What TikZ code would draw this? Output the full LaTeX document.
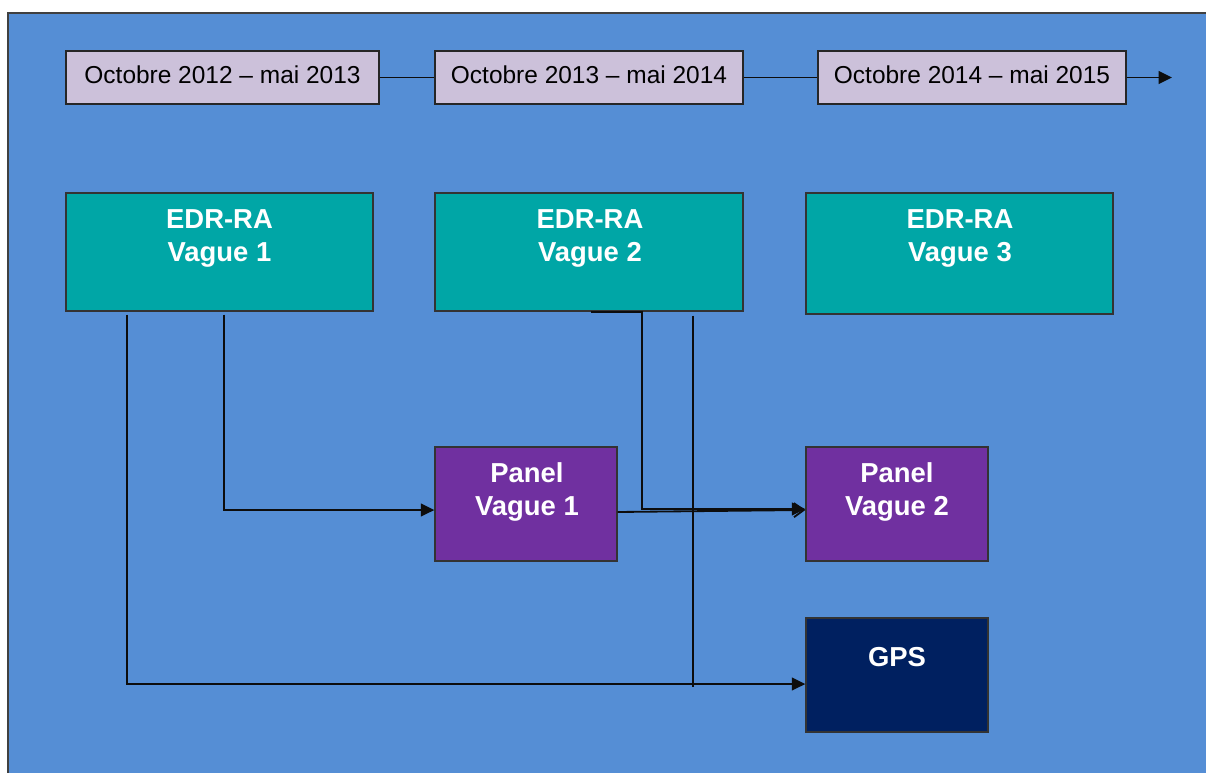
\documentclass[tikz,border=0pt]{standalone}
\usepackage{fontspec}
\setmainfont{Liberation Sans}
\usetikzlibrary{arrows.meta}
\definecolor{bg}{HTML}{558ED5}
\definecolor{period}{HTML}{CCC1DA}
\definecolor{edr}{HTML}{00A6A6}
\definecolor{panel}{HTML}{7030A0}
\definecolor{gps}{HTML}{002060}

\tikzset{
  periodbox/.style={shape=rectangle, fill=period, draw=black!85, line width=0.9pt,
    minimum height=1.325cm, inner sep=0pt, text depth=4.5pt,
    font=\fontsize{17.4}{21}\selectfont},
  edrbox/.style={shape=rectangle, fill=edr, draw=black!80, line width=0.9pt,
    minimum width=7.675cm, minimum height=2.95cm},
  panelbox/.style={shape=rectangle, fill=panel, draw=black!80, line width=0.9pt,
    minimum width=4.55cm, minimum height=2.85cm},
  boxtext/.style={text=white, align=center, inner sep=0pt,
    font=\fontsize{19.5}{23.5}\selectfont\bfseries},
  link/.style={draw=black!95, line width=1.3pt},
  tip/.style={link, -{Triangle[length=9.5pt, width=9pt]}},
}

\begin{document}
\begin{tikzpicture}[x=0.025cm, y=-0.025cm]
    \useasboundingbox (0,0) rectangle (1206,772);
    \clip (0,0) rectangle (1206,772);
    \fill[white] (0,0) rectangle (1206,772);
    \draw[fill=bg, draw=black!75, line width=1.4pt] (8,13) rectangle (1240,800);

    % periods
    \node at (222.5,77.5) (p1) [periodbox, minimum width=7.825cm] {Octobre 2012 – mai 2013};
    \node at (589,77.5) (p2) [periodbox, minimum width=7.7cm] {Octobre 2013 – mai 2014};
    \node at (972,77.5) (p3) [periodbox, minimum width=7.7cm] {Octobre 2014 – mai 2015};
    \coordinate (tlend) at (1172,77.5);

    \draw[link] (p1.east) -- (p2.west);
    \draw[link] (p2.east) -- (p3.west);
    \draw[tip] (p3.east) -- (tlend);

    % surveys
    \node at (219.5,252) (edr1) [edrbox] {};
    \node at (589,252) (edr2) [edrbox, minimum width=7.7cm] {};
    \node at (959.5,253.5) (edr3) [edrbox, minimum height=3.025cm] {};
    \node at (219.5,238) (edr1txt) [boxtext] {EDR-RA\\Vague 1};
    \node at (590,238) (edr2txt) [boxtext] {EDR-RA\\Vague 2};
    \node at (960,238) (edr3txt) [boxtext] {EDR-RA\\Vague 3};

    \node at (526,504) (panel1) [panelbox] {};
    \node at (897,504) (panel2) [panelbox] {};
    \node at (897,675) (gps) [panelbox, fill=gps] {};
    \node at (527,491.5) (panel1txt) [boxtext] {Panel\\Vague 1};
    \node at (897,491.5) (panel2txt) [boxtext] {Panel\\Vague 2};
    \node at (897,657) (gpstxt) [boxtext] {GPS};

    % links
    \coordinate (gpsin) at ([shift={(0,9)}]gps.west);
    \draw[tip] ([shift={(62,3)}]edr1.south west) |- (gpsin);
    \draw[tip] ([shift={(159,3)}]edr1.south west) |- ([shift={(0,6)}]panel1.west);
    \draw[link, -{Straight Barb[length=7pt, width=10pt]}] ([shift={(0,8)}]panel1.east)
        -- ([shift={(0,6)}]panel2.west);
    \draw[tip] ([shift={(157,0)}]edr2.south west) -- ++(51,0)
        |- ([shift={(0,5)}]panel2.west);
    \draw[link] ([shift={(259,4)}]edr2.south west) coordinate (e2b)
        -- ([shift={(0,3)}]e2b |- gpsin);
\end{tikzpicture}
\end{document}
